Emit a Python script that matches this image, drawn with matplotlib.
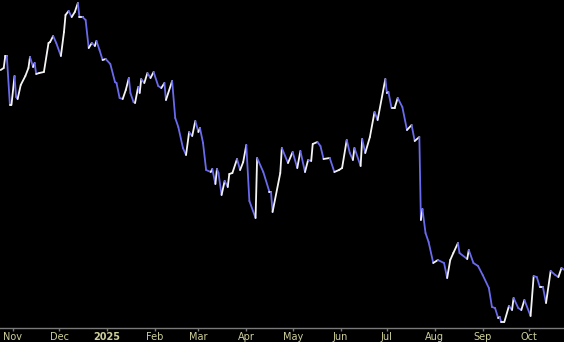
import matplotlib
matplotlib.use("Agg")
from matplotlib import pyplot as plt
from matplotlib.collections import LineCollection
import matplotlib.dates as mdates
import numpy as np
import pandas as pd

# closing values
fechas = ["2024-10-24", "2024-10-26", "2024-10-27", "2024-10-28", "2024-10-30", "2024-10-31",
          "2024-11-02", "2024-11-03", "2024-11-04", "2024-11-06", "2024-11-09", "2024-11-11",
          "2024-11-12", "2024-11-14", "2024-11-15", "2024-11-16", "2024-11-18", "2024-11-21",
          "2024-11-24", "2024-11-25", "2024-11-27", "2024-11-29", "2024-12-02", "2024-12-04",
          "2024-12-05", "2024-12-07", "2024-12-09", "2024-12-11", "2024-12-13", "2024-12-14",
          "2024-12-16", "2024-12-18", "2024-12-20", "2024-12-22", "2024-12-24", "2024-12-25",
          "2024-12-27", "2024-12-29", "2024-12-31", "2025-01-03", "2025-01-06", "2025-01-07",
          "2025-01-09", "2025-01-11", "2025-01-13", "2025-01-15", "2025-01-16", "2025-01-18",
          "2025-01-19", "2025-01-21", "2025-01-22", "2025-01-23", "2025-01-25", "2025-01-27",
          "2025-01-29", "2025-01-31", "2025-02-03", "2025-02-05", "2025-02-07", "2025-02-08",
          "2025-02-12", "2025-02-14", "2025-02-16", "2025-02-19", "2025-02-21", "2025-02-23",
          "2025-02-25", "2025-02-27", "2025-03-01", "2025-03-02", "2025-03-04", "2025-03-06",
          "2025-03-09", "2025-03-10", "2025-03-12", "2025-03-13", "2025-03-14", "2025-03-16",
          "2025-03-18", "2025-03-20", "2025-03-21", "2025-03-23", "2025-03-26", "2025-03-28",
          "2025-03-30", "2025-04-01", "2025-04-03", "2025-04-07", "2025-04-08", "2025-04-12",
          "2025-04-16", "2025-04-17", "2025-04-18", "2025-04-23", "2025-04-24", "2025-04-28",
          "2025-05-01", "2025-05-04", "2025-05-06", "2025-05-09", "2025-05-11", "2025-05-13",
          "2025-05-14", "2025-05-17", "2025-05-19", "2025-05-21", "2025-05-25", "2025-05-28",
          "2025-05-31", "2025-06-02", "2025-06-05", "2025-06-07", "2025-06-09", "2025-06-10",
          "2025-06-14", "2025-06-15", "2025-06-17", "2025-06-20", "2025-06-23", "2025-06-25",
          "2025-06-30", "2025-07-01", "2025-07-02", "2025-07-04", "2025-07-06", "2025-07-08",
          "2025-07-11", "2025-07-14", "2025-07-17", "2025-07-19", "2025-07-22", "2025-07-23",
          "2025-07-24", "2025-07-26", "2025-07-28", "2025-07-31", "2025-08-03", "2025-08-07",
          "2025-08-09", "2025-08-11", "2025-08-13", "2025-08-16", "2025-08-17", "2025-08-22",
          "2025-08-23", "2025-08-26", "2025-08-29", "2025-09-01", "2025-09-05", "2025-09-07",
          "2025-09-09", "2025-09-11", "2025-09-12", "2025-09-13", "2025-09-15", "2025-09-18",
          "2025-09-20", "2025-09-21", "2025-09-24", "2025-09-26", "2025-09-28", "2025-10-02",
          "2025-10-04", "2025-10-06", "2025-10-08", "2025-10-10", "2025-10-12", "2025-10-15",
          "2025-10-18", "2025-10-20", "2025-10-22", "2025-10-24"]

valores = [35.8, 36.0, 37.2, 37.2, 32.3, 32.3, 35.2, 33.1, 32.9, 34.3, 35.2, 36.0,
           37.1, 36.1, 36.5, 35.4, 35.5, 35.6, 38.5, 38.6, 39.2, 38.5, 37.2, 39.6,
           41.3, 41.7, 41.1, 41.6, 42.5, 41.1, 41.1, 40.8, 38.0, 38.5, 38.2, 38.7,
           37.8, 36.8, 36.9, 36.4, 34.6, 34.5, 33.0, 32.9, 33.8, 35.0, 33.5, 32.6,
           32.5, 34.1, 33.5, 34.9, 34.5, 35.5, 35.0, 35.6, 34.2, 34.0, 34.5, 32.8,
           34.7, 31.0, 30.1, 28.0, 27.3, 29.6, 29.2, 30.7, 29.6, 30.0, 28.5, 25.8,
           25.6, 25.9, 24.4, 25.9, 25.5, 23.3, 24.7, 24.1, 25.4, 25.5, 26.9, 25.8,
           26.6, 28.3, 22.7, 21.0, 27.0, 25.6, 23.6, 23.6, 21.6, 25.5, 28.0, 26.5,
           27.6, 26.0, 27.7, 25.6, 26.8, 26.7, 28.4, 28.6, 28.2, 26.9, 27.0, 25.6,
           25.8, 26.0, 28.8, 27.5, 26.8, 28.0, 26.2, 28.9, 27.5, 29.1, 31.6, 30.8,
           34.9, 33.5, 33.6, 32.0, 32.0, 33.0, 32.1, 29.8, 30.3, 28.7, 29.1, 20.8,
           21.9, 19.5, 18.6, 16.5, 16.8, 16.5, 15.0, 16.8, 17.5, 18.5, 17.5, 16.9,
           17.8, 16.5, 16.2, 15.3, 14.0, 12.1, 12.0, 11.0, 11.1, 10.6, 10.6, 12.2,
           11.8, 13.0, 12.0, 11.8, 12.8, 11.2, 15.2, 15.1, 14.1, 14.1, 12.5, 15.7,
           15.3, 15.1, 16.0, 15.8]

meses = ["2024-11-01", "2024-12-01", "2025-01-01", "2025-02-01", "2025-03-01", "2025-04-01",
         "2025-05-01", "2025-06-01", "2025-07-01", "2025-08-01", "2025-09-01", "2025-10-01"]
etiquetas = ["Nov", "Dec", "2025", "Feb", "Mar", "Apr", "May", "Jun", "Jul", "Aug", "Sep", "Oct"]

x = mdates.date2num(pd.to_datetime(fechas).to_pydatetime())
y = np.array(valores)

fig = plt.figure(figsize=(5.64, 3.42), dpi=100)
fig.patch.set_facecolor("black")
ax = fig.add_axes([0, 14 / 342, 1, 328 / 342])
ax.set_facecolor("black")

# subida en blanco, bajada en azul
puntos = np.column_stack([x, y]).reshape(-1, 1, 2)
segs = np.concatenate([puntos[:-1], puntos[1:]], axis=1)
colores = ["#f4f4f4" if b >= a else "#6a6aec" for a, b in zip(y[:-1], y[1:])]
lc = LineCollection(segs, colors=colores, linewidths=1.3, capstyle="round", joinstyle="round")
ax.add_collection(lc)

nov1 = mdates.date2num(pd.Timestamp("2024-11-01").to_pydatetime())
ax.set_xlim(nov1 - 8.41, nov1 + 356.63)
ax.set_ylim(10.0, 42.8)

for s in ["top", "left", "right"]:
    ax.spines[s].set_visible(False)
ax.spines["bottom"].set_color("#7a7a7a")
ax.spines["bottom"].set_linewidth(1.0)
ax.set_yticks([])

ax.set_xticks(mdates.date2num(pd.to_datetime(meses).to_pydatetime()))
ax.set_xticklabels(etiquetas)
ax.tick_params(axis="x", colors="#7a7a7a", length=2.5, width=1, pad=0.3,
               labelsize=7, labelcolor="#cfcf9c")
for t in ax.get_xticklabels():
    if t.get_text() == "2025":
        t.set_fontweight("bold")

fig.savefig("out.png", dpi=100, facecolor="black")
